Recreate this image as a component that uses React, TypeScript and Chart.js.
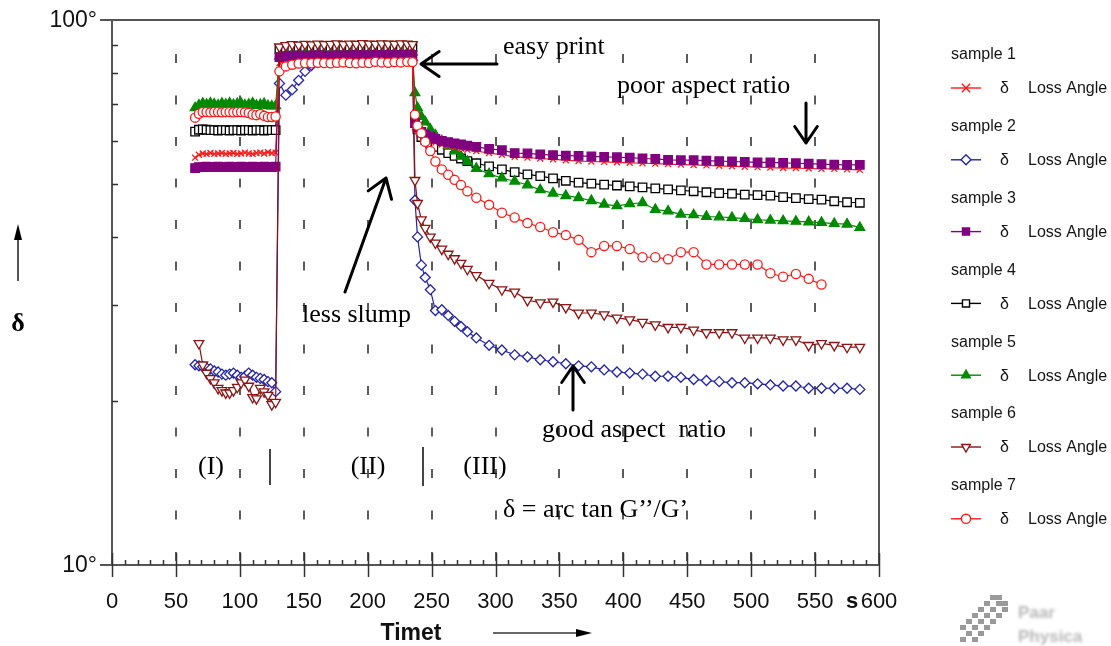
import React, { useEffect, useRef } from "react";
import { Chart, registerables } from "chart.js";

Chart.register(...registerables);

// ---------- data ----------
const TIME = [
  // phase I
  65, 68, 71, 74, 77, 80, 83, 86, 89, 92, 95, 98, 101, 104, 107, 110, 113, 116, 119, 122, 125, 128,
  // phase II
  131, 136, 141, 146, 151, 156, 161, 166, 171, 176, 181, 186, 191, 196, 201, 206, 211, 216, 221, 226, 231, 235,
  // phase III
  237, 239, 242, 245, 249, 253, 258, 263, 268, 273, 278, 285, 295, 305, 315, 325, 335, 345, 355, 365, 375,
  385, 395, 405, 415, 425, 435, 445, 455, 465, 475, 485, 495, 505, 515, 525, 535, 545, 555, 565, 575, 585,
];

const SAMPLE_1 = [
  55.9, 56.6, 56.9, 56.8, 57.0, 56.8, 56.9, 57.0, 56.8, 56.9, 57.0, 56.8, 56.9, 57.1, 56.9, 56.8, 57.0, 57.1, 56.9, 57.2, 57.0, 57.1,
  83.4, 83.8, 84.0, 84.1, 84.0, 84.2, 84.1, 84.0, 84.2, 84.3, 84.1, 84.2, 84.3, 84.2, 84.4, 84.3, 84.2, 84.4, 84.3, 84.5, 84.4, 84.3,
  63.5, 62.5, 61.5, 60.8, 60.2, 59.6, 59.1, 58.7, 58.4, 58.1, 57.8, 57.5, 57.0, 56.6, 56.1, 55.9, 55.7, 55.5, 55.3, 55.1, 55.0,
  54.9, 54.8, 54.7, 54.6, 54.5, 54.4, 54.3, 54.2, 54.1, 54.0, 53.9, 53.8, 53.7, 53.6, 53.5, 53.5, 53.4, 53.3, 53.3, 53.2, 53.1,
];

const SAMPLE_2 = [
  23.3, 23.2, 23.1, 23.0, 22.9, 22.7, 22.6, 22.4, 22.3, 22.4, 22.5, 22.3, 22.1, 22.2, 22.5, 22.3, 22.1, 22.0, 21.9, 21.7, 21.6, 20.8,
  76.5, 72.8, 74.5, 77.5, 80.5, 82.5, 83.5, 84.0, 84.2, 84.3, 84.2, 84.3, 84.4, 84.3, 84.4, 84.5, 84.4, 84.3, 84.5, 84.4, 84.5, 84.4,
  46.7, 40.0, 35.5, 33.7, 32.0, 29.3, 29.4, 28.7, 28.0, 27.4, 26.8, 26.1, 25.3, 24.8, 24.3, 24.1, 23.8, 23.6, 23.4, 23.2, 23.1,
  22.8, 22.6, 22.5, 22.4, 22.2, 22.2, 22.1, 21.9, 21.8, 21.7, 21.6, 21.6, 21.5, 21.4, 21.3, 21.3, 21.1, 21.1, 21.1, 21.1, 21.0,
];

const SAMPLE_3 = [
  53.5, 53.7, 53.7, 53.8, 53.7, 53.7, 53.8, 53.7, 53.7, 53.8, 53.7, 53.7, 53.8, 53.7, 53.7, 53.8, 53.7, 53.7, 53.8, 53.7, 53.7, 53.8,
  85.5, 85.8, 86.0, 86.1, 86.0, 86.1, 86.2, 86.1, 86.0, 86.2, 86.1, 86.2, 86.3, 86.2, 86.1, 86.3, 86.2, 86.3, 86.2, 86.3, 86.4, 86.3,
  64.7, 63.5, 62.3, 61.6, 61.0, 60.5, 60.0, 59.7, 59.4, 59.1, 58.8, 58.5, 58.0, 57.7, 57.0, 56.9, 56.7, 56.5, 56.4, 56.3, 56.2,
  56.1, 56.0, 55.9, 55.7, 55.6, 55.4, 55.3, 55.3, 55.2, 55.1, 55.0, 54.9, 54.8, 54.8, 54.7, 54.6, 54.5, 54.4, 54.3, 54.2, 54.2,
];

const SAMPLE_4 = [
  62.4, 62.9, 63.0, 62.9, 62.8, 62.8, 62.7, 62.8, 62.8, 62.7, 62.8, 62.8, 62.7, 62.8, 62.8, 62.7, 62.8, 62.8, 62.7, 62.8, 62.8, 62.8,
  88.5, 88.8, 88.9, 89.0, 88.9, 89.0, 89.0, 89.1, 89.0, 89.0, 89.1, 89.0, 89.1, 89.0, 89.1, 89.1, 89.0, 89.1, 89.1, 89.0, 89.1, 89.1,
  66.4, 63.0, 61.0, 60.3, 59.2, 58.5, 57.8, 57.0, 56.3, 55.7, 55.1, 54.6, 53.9, 53.2, 52.6, 52.1, 51.7, 51.2, 50.7, 50.3, 50.1,
  49.9, 49.7, 49.5, 49.3, 49.1, 48.9, 48.7, 48.5, 48.3, 48.1, 48.0, 47.8, 47.7, 47.6, 47.3, 47.1, 46.9, 46.8, 46.5, 46.3, 46.2,
];

const SAMPLE_5 = [
  69.0, 69.8, 70.3, 70.0, 70.4, 70.1, 69.8, 70.3, 70.0, 70.4, 69.9, 70.2, 70.3, 69.8, 70.0, 70.4, 69.7, 69.9, 70.2, 69.6, 69.5, 69.6,
  85.8, 86.3, 86.6, 86.5, 86.8, 86.6, 86.7, 86.9, 86.6, 86.8, 86.7, 86.9, 86.8, 86.7, 86.9, 87.0, 86.8, 86.9, 87.1, 86.9, 87.0, 87.2,
  73.5, 69.0, 66.5, 65.0, 63.0, 61.5, 60.0, 58.8, 57.5, 56.2, 55.0, 53.4, 52.2, 51.3, 50.6, 49.8, 48.8, 48.1, 47.6, 47.2, 46.6,
  45.9, 45.6, 46.0, 46.2, 44.9, 44.6, 44.0, 43.9, 43.6, 43.5, 43.4, 43.2, 43.0, 42.9, 42.8, 42.7, 42.6, 42.5, 42.3, 42.2, 41.6,
];

const SAMPLE_6 = [
  null, 25.5, 23.3, 22.5, 22.0, 21.6, 21.1, 20.9, 20.7, 20.7, 20.9, 21.2, 21.6, 21.85, 21.3, 20.3, 20.2, 21.1, 20.8, 20.5, 19.7, 19.9,
  89.3, 89.8, 90.2, 90.0, 90.3, 90.1, 90.4, 90.2, 90.3, 90.5, 90.2, 90.4, 90.3, 90.6, 90.4, 90.3, 90.5, 90.4, 90.3, 90.5, 90.4, 90.2,
  50.8, 46.1, 43.0, 41.5, 40.0, 39.0, 38.0, 37.2, 36.5, 35.8, 34.9, 34.0, 32.9, 32.0, 31.7, 30.6, 30.3, 30.4, 29.7, 29.0, 29.0,
  28.8, 28.4, 28.2, 27.9, 27.6, 27.3, 27.3, 27.0, 26.7, 26.7, 26.7, 26.1, 26.1, 26.1, 25.9, 25.9, 25.3, 25.5, 25.3, 25.1, 25.1,
];

const SAMPLE_7 = [
  66.2, 67.3, 67.8, 67.8, 67.7, 67.8, 67.8, 67.7, 67.8, 67.8, 67.7, 67.8, 67.8, 67.7, 67.5, 67.1, 66.9, 67.2, 66.7, 66.4, 66.4, 66.5,
  80.5, 82.2, 82.8, 83.2, 83.4, 83.3, 83.5, 83.4, 83.3, 83.5, 83.6, 83.4, 83.3, 83.5, 83.4, 83.8, 83.6, 83.5, 83.7, 83.6, 83.8, 83.7,
  67.0, 64.0, 62.0, 59.8, 57.5, 55.0, 53.2, 52.0, 50.9, 49.8, 48.5, 47.2, 45.8, 44.3, 43.4, 42.4, 41.7, 40.8, 40.3, 39.5, 37.5,
  38.5, 38.5, 38.0, 36.7, 36.7, 36.4, 37.5, 37.5, 35.6, 35.6, 35.6, 35.6, 35.6, 34.3, 33.8, 34.2, 33.5, 32.7, null, null, null,
];

const SAMPLE_NAMES = ["sample 1", "sample 2", "sample 3", "sample 4", "sample 5", "sample 6", "sample 7"];
const SERIES_LABEL = "Loss Angle";
const X_TICKS = [0, 50, 100, 150, 200, 250, 300, 350, 400, 450, 500, 550, 600];
const X_MINOR_STEP = 10;
const Y_TICKS = [10, 100];
const Y_TICK_LABELS = ["10°", "100°"];
const Y_MINOR = [20, 30, 40, 50, 60, 70, 80, 90];
const X_TITLE = "Timet";
const X_UNIT = "s";

// ---------- styles ----------
const STYLES = [
  { color: "#ff1a1a", point: "crossRot", radius: 4.2, fill: "#ff1a1a", rot: 0, order: 3 },
  { color: "#2323a8", point: "rectRot", radius: 5, fill: "#ffffff", rot: 0, order: 6 },
  { color: "#800080", point: "rect", radius: 6, fill: "#800080", rot: 0, order: 2 },
  { color: "#000000", point: "rect", radius: 6, fill: "#ffffff", rot: 0, order: 5 },
  { color: "#008a00", point: "triangle", radius: 5.6, fill: "#008a00", rot: 0, order: 4 },
  { color: "#8b1414", point: "triangle", radius: 5.6, fill: "#ffffff", rot: 180, order: 1 },
  { color: "#ff1a1a", point: "circle", radius: 4.6, fill: "#ffffff", rot: 0, order: 0 },
];

const SERIES = [SAMPLE_1, SAMPLE_2, SAMPLE_3, SAMPLE_4, SAMPLE_5, SAMPLE_6, SAMPLE_7];

function drawMarker(ctx: CanvasRenderingContext2D, s: any, x: number, y: number) {
  const r = s.radius;
  ctx.save();
  ctx.lineWidth = 1.4;
  ctx.strokeStyle = s.color;
  ctx.fillStyle = s.fill;
  ctx.beginPath();
  if (s.point === "crossRot") {
    ctx.moveTo(x - r, y - r); ctx.lineTo(x + r, y + r);
    ctx.moveTo(x + r, y - r); ctx.lineTo(x - r, y + r);
    ctx.stroke();
  } else if (s.point === "rectRot") {
    ctx.moveTo(x, y - r); ctx.lineTo(x + r, y); ctx.lineTo(x, y + r); ctx.lineTo(x - r, y); ctx.closePath();
    ctx.fill(); ctx.stroke();
  } else if (s.point === "rect") {
    const h = r * Math.SQRT1_2;
    ctx.rect(x - h, y - h, 2 * h, 2 * h);
    ctx.fill(); ctx.stroke();
  } else if (s.point === "triangle") {
    const sign = s.rot === 180 ? -1 : 1;
    ctx.moveTo(x, y - sign * r);
    ctx.lineTo(x + r * 0.866, y + sign * r * 0.5);
    ctx.lineTo(x - r * 0.866, y + sign * r * 0.5);
    ctx.closePath();
    ctx.fill(); ctx.stroke();
  } else {
    ctx.arc(x, y, r, 0, Math.PI * 2);
    ctx.fill(); ctx.stroke();
  }
  ctx.restore();
}

function openArrow(ctx: CanvasRenderingContext2D, x1: number, y1: number, x2: number, y2: number, head: number, w: number) {
  const a = Math.atan2(y2 - y1, x2 - x1);
  ctx.save();
  ctx.strokeStyle = "#000";
  ctx.lineWidth = w;
  ctx.lineCap = "round";
  ctx.lineJoin = "round";
  ctx.beginPath();
  ctx.moveTo(x1, y1);
  ctx.lineTo(x2, y2);
  ctx.moveTo(x2 - head * Math.cos(a - 0.6), y2 - head * Math.sin(a - 0.6));
  ctx.lineTo(x2, y2);
  ctx.lineTo(x2 - head * Math.cos(a + 0.6), y2 - head * Math.sin(a + 0.6));
  ctx.stroke();
  ctx.restore();
}

function filledArrow(ctx: CanvasRenderingContext2D, x1: number, y1: number, x2: number, y2: number, head: number, color: string, w: number) {
  const a = Math.atan2(y2 - y1, x2 - x1);
  ctx.save();
  ctx.strokeStyle = color;
  ctx.fillStyle = "#000";
  ctx.lineWidth = w;
  ctx.beginPath();
  ctx.moveTo(x1, y1);
  ctx.lineTo(x2 - head * Math.cos(a), y2 - head * Math.sin(a));
  ctx.stroke();
  ctx.beginPath();
  ctx.moveTo(x2, y2);
  ctx.lineTo(x2 - head * Math.cos(a) + 4 * Math.sin(a), y2 - head * Math.sin(a) - 4 * Math.cos(a));
  ctx.lineTo(x2 - head * Math.cos(a) - 4 * Math.sin(a), y2 - head * Math.sin(a) + 4 * Math.cos(a));
  ctx.closePath();
  ctx.fill();
  ctx.restore();
}

const decorPlugin = {
  id: "decor",
  beforeDatasetsDraw(chart: any) {
    const ctx: CanvasRenderingContext2D = chart.ctx;
    const { top, bottom } = chart.chartArea;
    const xs = chart.scales.x;
    ctx.save();
    ctx.strokeStyle = "#333";
    ctx.lineWidth = 1.6;
    ctx.setLineDash([9, 32.5]);
    X_TICKS.slice(1, -1).forEach((v) => {
      const px = Math.round(xs.getPixelForValue(v));
      ctx.beginPath();
      ctx.moveTo(px, top + 34);
      ctx.lineTo(px, bottom);
      ctx.stroke();
    });
    ctx.restore();
  },
  afterDatasetsDraw(chart: any) {
    const ctx: CanvasRenderingContext2D = chart.ctx;
    const { left, right, top, bottom } = chart.chartArea;
    const xs = chart.scales.x;
    const ys = chart.scales.y;
    ctx.save();
    // frame
    ctx.strokeStyle = "#555";
    ctx.lineWidth = 2;
    ctx.beginPath();
    ctx.moveTo(left - 12, top); ctx.lineTo(right, top); ctx.lineTo(right, bottom);
    ctx.moveTo(left, top); ctx.lineTo(left, bottom);
    ctx.moveTo(left - 12, bottom); ctx.lineTo(right, bottom);
    ctx.stroke();
    // x ticks
    ctx.lineWidth = 1.5;
    ctx.strokeStyle = "#333";
    ctx.beginPath();
    for (let v = X_TICKS[0]; v <= X_TICKS[X_TICKS.length - 1]; v += X_MINOR_STEP) {
      const px = Math.round(xs.getPixelForValue(v)) + 0.5;
      if (v % 50 === 0) {
        ctx.moveTo(px, bottom - 12); ctx.lineTo(px, bottom + 12);
      } else {
        ctx.moveTo(px, bottom - 5); ctx.lineTo(px, bottom);
      }
    }
    // y minor ticks
    Y_MINOR.forEach((v) => {
      const py = Math.round(ys.getPixelForValue(v)) + 0.5;
      ctx.moveTo(left, py); ctx.lineTo(left + 6, py);
    });
    ctx.stroke();
    // tick labels
    ctx.fillStyle = "#111";
    ctx.font = "22px 'Liberation Sans', Arial, sans-serif";
    ctx.textAlign = "center";
    ctx.textBaseline = "middle";
    X_TICKS.forEach((v) => {
      ctx.fillText(String(v), xs.getPixelForValue(v), bottom + 37);
    });
    ctx.font = "bold 22px 'Liberation Sans', Arial, sans-serif";
    ctx.fillText(X_UNIT, xs.getPixelForValue(575) + 5, bottom + 37);
    ctx.font = "23px 'Liberation Sans', Arial, sans-serif";
    ctx.textAlign = "right";
    Y_TICKS.forEach((v, i) => {
      ctx.fillText(Y_TICK_LABELS[i], left - 15, ys.getPixelForValue(v) + 1);
    });
    // axis titles
    ctx.textAlign = "center";
    ctx.font = "bold 23px 'Liberation Sans', Arial, sans-serif";
    ctx.fillText(X_TITLE, 411, 634);
    filledArrow(ctx, 493, 633, 592, 633, 16, "#333", 1.5);
    ctx.font = "bold 26px 'Liberation Serif', serif";
    ctx.fillStyle = "#000";
    ctx.fillText("δ", 18, 324);
    filledArrow(ctx, 18, 281, 18, 224, 16, "#555", 2);

    // annotations
    ctx.fillStyle = "#000";
    ctx.font = "26px 'Liberation Serif', 'Times New Roman', serif";
    ctx.textAlign = "left";
    ctx.fillText("easy print", 503, 47);
    ctx.fillText("poor aspect ratio", 617, 86);
    ctx.fillText("less slump", 302, 315);
    ctx.fillText("good aspect  ratio", 542, 430);
    ctx.fillText("δ = arc tan G’’/G’", 503, 510);
    ctx.textAlign = "center";
    ctx.fillText("(I)", 211, 467);
    ctx.fillText("(II)", 368, 467);
    ctx.fillText("(III)", 485, 467);
    ctx.strokeStyle = "#444";
    ctx.lineWidth = 2;
    ctx.beginPath();
    ctx.moveTo(270, 449); ctx.lineTo(270, 485);
    ctx.moveTo(423, 447); ctx.lineTo(423, 486);
    ctx.stroke();
    openArrow(ctx, 497, 64, 421, 64, 22, 3);
    openArrow(ctx, 806, 103, 806, 143, 20, 3);
    openArrow(ctx, 345, 292, 386, 178, 22, 3);
    openArrow(ctx, 573, 410, 573, 366, 20, 3);

    // legend
    ctx.textAlign = "left";
    ctx.textBaseline = "middle";
    SAMPLE_NAMES.forEach((name, i) => {
      const s = STYLES[i];
      const ty = 55 + i * 71.8;
      const ly = 88 + i * 71.8;
      ctx.fillStyle = "#151515";
      ctx.font = "16px 'Liberation Sans', Arial, sans-serif";
      ctx.fillText(name, 951, ty);
      ctx.strokeStyle = s.color;
      ctx.lineWidth = 1.4;
      ctx.beginPath();
      ctx.moveTo(951, ly); ctx.lineTo(981, ly);
      ctx.stroke();
      drawMarker(ctx, { ...s, radius: Math.min(s.radius, 5) }, 966, ly);
      ctx.fillStyle = "#151515";
      ctx.fillText("δ", 1000, ly + 1);
      ctx.fillText(SERIES_LABEL, 1028, ly + 1);
    });

    // faded logo
    ctx.fillStyle = "#9a9a9a";
    const cells = [
      [990, 595], [996, 595], [984, 601], [996, 601], [1002, 601], [978, 607], [990, 607], [1002, 607],
      [972, 613], [984, 613], [996, 613], [966, 619], [978, 619], [990, 619], [960, 625], [972, 625],
      [984, 625], [966, 631], [978, 631], [960, 637], [972, 637],
    ];
    cells.forEach(([cx, cy]) => ctx.fillRect(cx, cy, 6, 5));
    ctx.filter = "blur(1.5px)";
    ctx.fillStyle = "#b8b8b8";
    ctx.font = "bold 17px 'Liberation Sans', Arial, sans-serif";
    ctx.fillText("Paar", 1018, 613);
    ctx.fillText("Physica", 1018, 637);
    ctx.filter = "none";
    ctx.restore();
  },
};

export default function App() {
  const ref = useRef<HTMLCanvasElement | null>(null);
  useEffect(() => {
    if (!ref.current) return;
    const datasets = SERIES.map((vals, i) => {
      const s = STYLES[i];
      return {
        label: SAMPLE_NAMES[i],
        data: TIME.map((t, k) => ({ x: t, y: vals[k] })),
        borderColor: s.color,
        backgroundColor: s.fill,
        borderWidth: 1.2,
        pointStyle: s.point,
        pointRadius: s.radius,
        pointRotation: s.rot,
        pointBorderColor: s.color,
        pointBackgroundColor: s.fill,
        pointBorderWidth: 1.3,
        spanGaps: false,
        tension: 0,
        order: s.order,
      };
    });
    const chart = new Chart(ref.current, {
      type: "line",
      data: { datasets },
      options: {
        responsive: false,
        animation: false,
        devicePixelRatio: 1,
        layout: { padding: { left: 112, top: 20, right: 232, bottom: 81 } },
        scales: {
          x: { type: "linear", min: 0, max: 600, display: false },
          y: { type: "logarithmic", min: 10, max: 100, display: false },
        },
        plugins: { legend: { display: false }, tooltip: { enabled: false } },
      },
      plugins: [decorPlugin],
    } as any);
    return () => chart.destroy();
  }, []);
  return (
    <div style={{ position: "fixed", left: 0, top: 0, width: 1111, height: 646, background: "#fff" }}>
      <canvas ref={ref} width={1111} height={646} />
    </div>
  );
}
